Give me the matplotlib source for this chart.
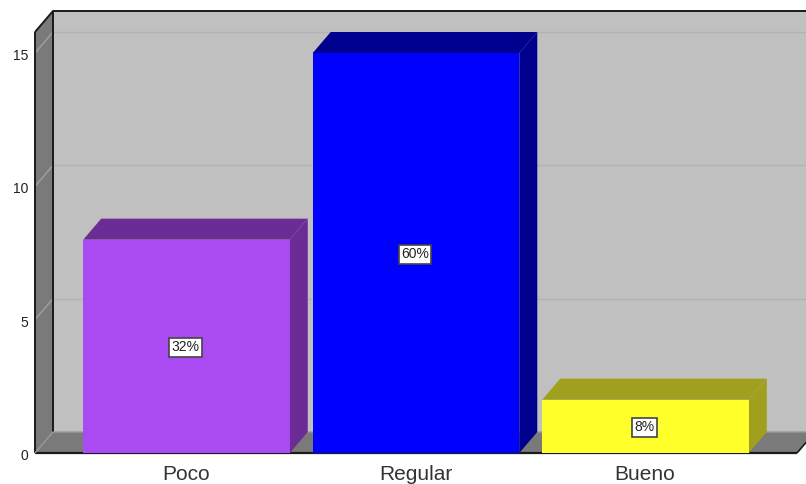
import numpy as np
import matplotlib
matplotlib.use("Agg")
import matplotlib.pyplot as plt
from matplotlib.patches import Polygon

categories = ["Poco", "Regular", "Bueno"]
values = [8, 15, 2]
percent_labels = ["32%", "60%", "8%"]
yticks = [0, 5, 10, 15]

front_colors = ["#AA4AF2", "#0000FF", "#FFFF2A"]
dark_colors = ["#6B2C96", "#00008F", "#A0A01E"]

W, H = 806, 484
plt.rcParams["font.family"] = ["Liberation Sans", "DejaVu Sans"]

fig = plt.figure(figsize=(W / 100, H / 100), dpi=100)
# front plane of the 3d box, in pixels
left, right, bottom, top = 35, 797, 453, 32
ax = fig.add_axes([left / W, 1 - bottom / H, (right - left) / W, (bottom - top) / H])
ax.set_xlim(-0.66, 2.66)
ymax = 15 * (bottom - top) / 400
ax.set_ylim(0, ymax)
ax.axis("off")

# depth offset of the box, converted to data units
dx = 18 * 3.32 / (right - left)
dy = 21 * ymax / (bottom - top)
x0, x1 = ax.get_xlim()


def poly(pts, color, z, edge="none", lw=0):
    ax.add_patch(Polygon(pts, closed=True, facecolor=color, edgecolor=edge, linewidth=lw, zorder=z, clip_on=False))


def line(xs, ys, color, lw, z):
    ax.plot(xs, ys, color=color, linewidth=lw, zorder=z, clip_on=False, solid_capstyle="butt")


# walls
poly([(x0 + dx, dy), (x1 + dx, dy), (x1 + dx, ymax + dy), (x0 + dx, ymax + dy)], "#C0C0C0", 1)
poly([(x0, 0), (x0 + dx, dy), (x0 + dx, ymax + dy), (x0, ymax)], "#7A7A7A", 1)
poly([(x0, 0), (x1, 0), (x1 + dx, dy), (x0 + dx, dy)], "#7A7A7A", 1)

# grid
for t in yticks[1:]:
    line([x0, x0 + dx], [t, t + dy], "#A0A0A0", 1.0, 2)
    line([x0 + dx, x1 + dx], [t + dy, t + dy], "#B2B2B2", 1.0, 2)

# box edges
line([x0, x0], [0, ymax], "#1A1A1A", 1.4, 3)
line([x0, x0 + dx, x1 + dx], [ymax, ymax + dy, ymax + dy], "#1A1A1A", 1.4, 3)
line([x0 + dx, x0 + dx], [dy, ymax + dy], "#1A1A1A", 1.4, 3)
line([x1, x0], [0, 0], "#1A1A1A", 1.6, 3)
line([x1, x1 + dx], [0, dy], "#1A1A1A", 1.2, 3)
line([x0, x0 + dx, x1 + dx], [0, dy, dy], "#9A9A9A", 1.0, 3)

# bars
w = 0.9
xpos = np.arange(len(categories))
bars = ax.bar(xpos, values, width=w, color=front_colors, zorder=5)
for b, dark in zip(bars, dark_colors):
    xa, xb, h = b.get_x(), b.get_x() + b.get_width(), b.get_height()
    poly([(xa, h), (xb, h), (xb + dx, h + dy), (xa + dx, h + dy)], dark, 4)
    poly([(xb, 0), (xb + dx, dy), (xb + dx, h + dy), (xb, h)], dark, 4)

for x, v, s in zip(xpos, values, percent_labels):
    ax.annotate(s, (x, v / 2), xytext=(-1, -1), textcoords="offset pixels", ha="center", va="center",
                fontsize=10, color="#222222", zorder=7,
                bbox=dict(boxstyle="square,pad=0.18", facecolor="white", edgecolor="#444444", linewidth=1.2))

# tick labels
for t in yticks:
    ax.annotate(str(t), (x0, t), xytext=(-7, -3), textcoords="offset pixels", ha="right", va="center",
                fontsize=10, color="#222222", annotation_clip=False)
for x, c in zip(xpos, categories):
    ax.annotate(c, (x, 0), xytext=(-0.5, -22), textcoords="offset pixels", ha="center", va="center",
                fontsize=15, color="#333333", annotation_clip=False)

fig.savefig("out.png", dpi=100)
